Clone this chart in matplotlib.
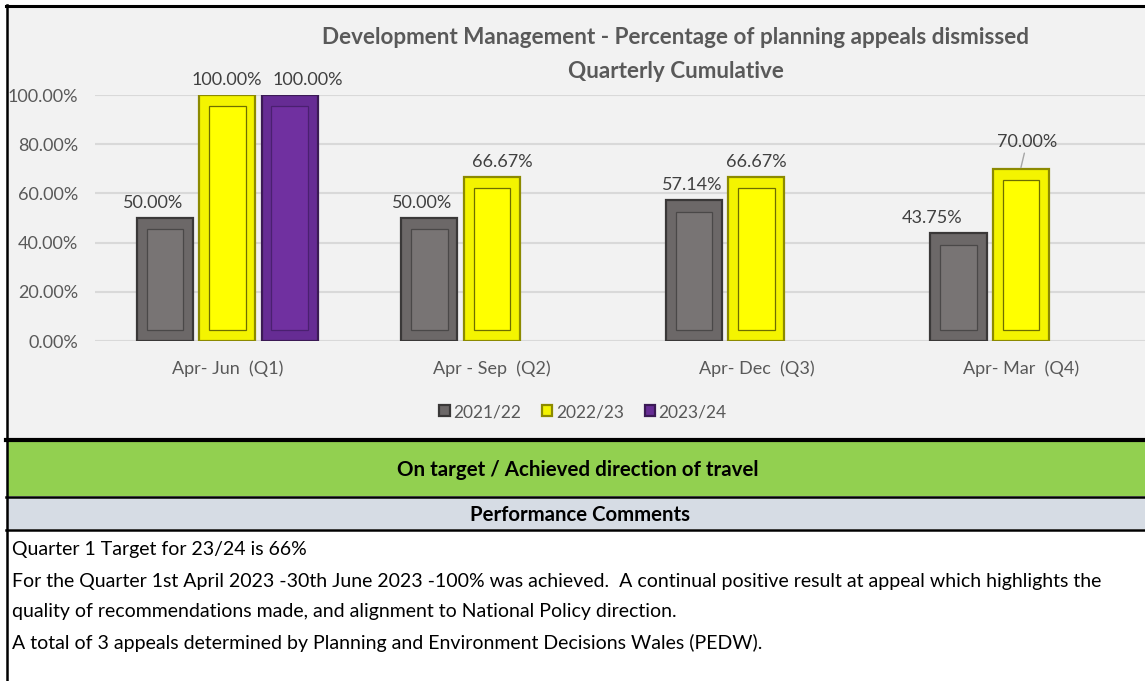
import matplotlib
matplotlib.use("Agg")
import matplotlib.pyplot as plt
from matplotlib.patches import Rectangle
import numpy as np

categories = ["Apr- Jun  (Q1)", "Apr - Sep  (Q2)", "Apr- Dec  (Q3)", "Apr- Mar  (Q4)"]
series_names = ["2021/22", "2022/23", "2023/24"]
v2122 = [50.00, 50.00, 57.14, 43.75]
v2223 = [100.00, 66.67, 66.67, 70.00]
v2324 = [100.00, None, None, None]
yticks = [0, 20, 40, 60, 80, 100]

title1 = "Development Management - Percentage of planning appeals dismissed"
title2 = "Quarterly Cumulative"
status = "On target / Achieved direction of travel"
comments_head = "Performance Comments"
comments = [
    "Quarter 1 Target for 23/24 is 66%",
    "For the Quarter 1st April 2023 -30th June 2023 -100% was achieved.  A continual positive result at appeal which highlights the",
    "quality of recommendations made, and alignment to National Policy direction.",
    "A total of 3 appeals determined by Planning and Environment Decisions Wales (PEDW).",
]

FONT = "Lato"
W, H = 1145, 681
fig = plt.figure(figsize=(W / 100, H / 100), dpi=100)
fig.patch.set_facecolor("white")

# background / panel axes in pixel coordinates
bg = fig.add_axes([0, 0, 1, 1])
bg.set_xlim(0, W)
bg.set_ylim(H, 0)
bg.axis("off")
bg.set_zorder(0)

bg.add_patch(Rectangle((7, 6), W, 433, facecolor="#f2f2f2", edgecolor="none"))
bg.add_patch(Rectangle((7, 441), W, 55, facecolor="#92d050", edgecolor="none"))
bg.add_patch(Rectangle((7, 498), W, 31, facecolor="#d6dce4", edgecolor="none"))
# borders
bg.plot([6, W], [5.5, 5.5], color="black", lw=2.2)
bg.plot([7, 7], [5, H], color="black", lw=1.8)
bg.plot([6, W], [440, 440], color="black", lw=3.0)
bg.plot([6, W], [497, 497], color="black", lw=1.8)
bg.plot([6, W], [530, 530], color="black", lw=1.8)

bg.text(676, 37, title1, ha="center", va="center", fontsize=16.2, fontweight="bold",
        color="#595959", family=FONT)
bg.text(676, 71, title2, ha="center", va="center", fontsize=16.2, fontweight="bold",
        color="#595959", family=FONT)
bg.text(578, 470, status, ha="center", va="center", fontsize=14.8, fontweight="bold",
        color="black", family=FONT)
bg.text(580, 515, comments_head, ha="center", va="center", fontsize=14.7, fontweight="bold",
        color="black", family=FONT)
for i, line in enumerate(comments):
    bg.text(12, 550 + i * 31, line, ha="left", va="center", fontsize=14.0,
            color="black", family=FONT)

# chart axes
left_px, right_px, top_px, bot_px = 95, W, 95, 341
ax = fig.add_axes([left_px / W, 1 - bot_px / H, (right_px - left_px) / W, (bot_px - top_px) / H])
ax.set_zorder(2)
ax.patch.set_alpha(0)
ax.set_ylim(0, 100)
ax.set_xlim(-0.5, 3.469)
for s in ax.spines.values():
    s.set_visible(False)
ax.set_yticks(yticks)
ax.set_yticklabels([f"{t:.2f}%" for t in yticks], fontsize=13, color="#595959", family=FONT)
ax.yaxis.grid(True, color="#d9d9d9", lw=1.5, zorder=0)
ax.set_axisbelow(True)
ax.tick_params(axis="y", length=0, pad=12)
x = np.arange(len(categories))
ax.set_xticks(x)
ax.set_xticklabels(categories, fontsize=13, color="#595959", family=FONT)
ax.tick_params(axis="x", length=0, pad=14)

bw = 0.212
off = 0.236
styles = [
    dict(face="#787474", edge="#3a3838", bevel="#6c6868", inner="#4a4848"),
    dict(face="#ffff00", edge="#8c8a00", bevel="#f4f400", inner="#6e6e00"),
    dict(face="#7030a0", edge="#3b1a55", bevel="#662c94", inner="#4a2070"),
]
# horizontal nudges of data labels (px) to mimic Excel's label placement
label_dx = [[-12, -7, -2, -26], [-1, 10, 0, 6], [18, 0, 0, 0]]
px_per_x = (right_px - left_px) / (3.469 + 0.5)

all_vals = [v2122, v2223, v2324]
for si, (vals, st) in enumerate(zip(all_vals, styles)):
    idx = [i for i, v in enumerate(vals) if v is not None]
    xs = [x[i] + (si - 1) * off for i in idx]
    vs = [vals[i] for i in idx]
    ax.bar(xs, vs, width=bw, color=st["bevel"], edgecolor=st["edge"], linewidth=1.6,
           zorder=3, label=series_names[si])
    inner_w = bw * 0.65
    inset = 4.6
    ax.bar(xs, [v - 2 * inset for v in vs], bottom=inset, width=inner_w,
           color=st["face"], edgecolor=st["inner"], linewidth=0.9, zorder=4)
    for i, xi, v in zip(idx, xs, vs):
        txt = f"{v:.2f}%"
        dx = label_dx[si][i] / px_per_x
        if si == 1 and i == 3:
            ax.annotate(txt, xy=(xi, v + 0.5), xytext=(xi + dx, v + 7.5), ha="center",
                        va="bottom", fontsize=13, color="#404040", family=FONT,
                        arrowprops=dict(arrowstyle="-", color="#a6a6a6", lw=1,
                                        shrinkA=0, shrinkB=0), annotation_clip=False)
        else:
            ax.text(xi + dx, v + 3, txt, ha="center", va="bottom", fontsize=13,
                    color="#404040", family=FONT, clip_on=False)

leg = ax.legend(loc="center", bbox_to_anchor=(583 / W, 1 - 412 / H), bbox_transform=fig.transFigure,
                ncol=3, frameon=False, handlelength=0.6, handleheight=0.6,
                handletextpad=0.2, columnspacing=1.2, prop=dict(family=FONT, size=12.5))
for t in leg.get_texts():
    t.set_color("#595959")

fig.savefig("out.png", dpi=100)
